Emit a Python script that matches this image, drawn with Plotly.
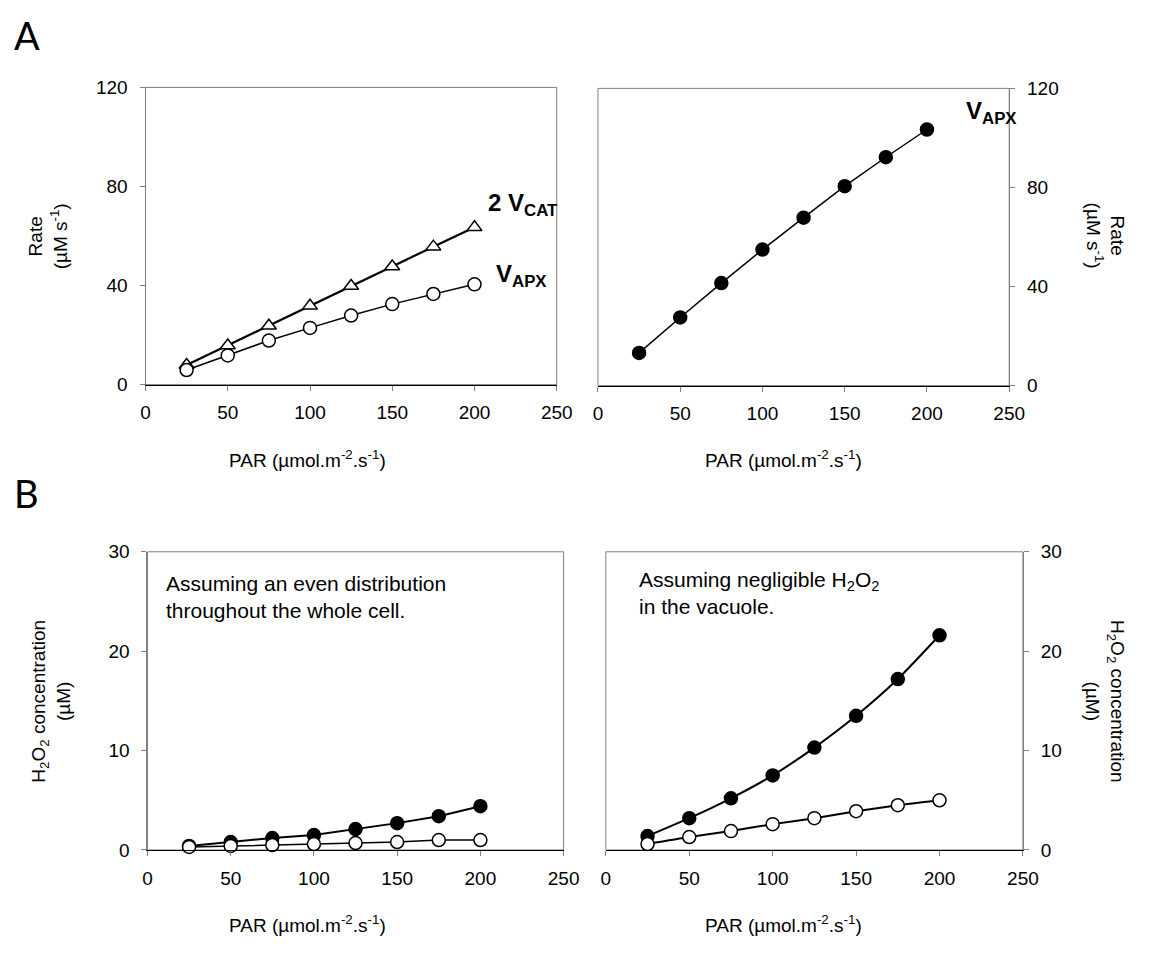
import plotly.graph_objects as go

# PAR levels (µmol m-2 s-1)
par = [25, 50, 75, 100, 125, 150, 175, 200]

# Panel A: rates (µM s-1)
a_2vcat = [7.9, 15.8, 23.8, 31.8, 39.8, 47.7, 55.7, 63.5]
a_vapx_even = [5.9, 11.8, 17.8, 22.9, 27.9, 32.5, 36.6, 40.5]
a_vapx_vac = [13.2, 27.5, 41.4, 54.9, 67.8, 80.5, 92.2, 103.4]

# Panel B: H2O2 concentration (µM)
b_even_filled = [0.4, 0.8, 1.2, 1.5, 2.1, 2.7, 3.4, 4.4]
b_even_open = [0.3, 0.4, 0.5, 0.6, 0.7, 0.8, 1.0, 1.0]
b_vac_filled = [1.4, 3.2, 5.2, 7.5, 10.3, 13.5, 17.2, 21.6]
b_vac_open = [0.6, 1.3, 1.9, 2.6, 3.2, 3.9, 4.5, 5.0]

x_ticks = [0, 50, 100, 150, 200, 250]

# the page body has an 8px margin, so the figure is shrunk and shifted by it
OFF = 8
W, H = 1150 - 2 * OFF, 955 - 2 * OFF
FONT = "Liberation Sans, Arial, sans-serif"
GREY = "#7f7f7f"


def fx(px):
    return (px - OFF) / W


def fy(py):
    return 1 - (py - OFF) / H


def px_x(a, b):
    return [fx(a), fx(b)]


def px_y(top, bottom):
    return [fy(bottom), fy(top)]


fig = go.Figure()


def series(x, y, xa, ya, filled, symbol="circle", width=1.5, shape="linear"):
    fig.add_trace(go.Scatter(
        x=x, y=y, xaxis=xa, yaxis=ya, mode="lines+markers",
        line=dict(color="black", width=width, shape=shape, smoothing=0.6),
        marker=dict(symbol=symbol, size=13,
                    color="black" if filled else "white",
                    line=dict(color="black", width=1.5)),
        showlegend=False, cliponaxis=False,
    ))


# A left
series(par, a_2vcat, "x", "y", False, symbol="triangle-up", width=2.2)
series(par, a_vapx_even, "x", "y", False)
# A right
series(par, a_vapx_vac, "x2", "y2", True)
# B left
series(par, b_even_filled, "x3", "y3", True, width=2)
series(par, b_even_open, "x3", "y3", False)
# B right
series(par, b_vac_filled, "x4", "y4", True, width=2, shape="spline")
series(par, b_vac_open, "x4", "y4", False, width=2, shape="spline")


def xaxis(domain, anchor):
    return dict(domain=domain, anchor=anchor, range=[0, 250], tickvals=x_ticks,
                ticks="outside", ticklen=5, tickcolor=GREY, showline=True,
                linecolor="black", linewidth=1, showgrid=False, zeroline=False,
                tickfont=dict(family=FONT, size=19, color="black"),
                ticklabelstandoff=6)


def yaxis(domain, anchor, rng, dtick, side):
    return dict(domain=domain, anchor=anchor, range=rng, dtick=dtick, side=side,
                ticks="outside", ticklen=5, tickcolor=GREY, showline=True,
                linecolor=GREY, linewidth=1, showgrid=False, zeroline=False,
                tickfont=dict(family=FONT, size=19, color="black"),
                ticklabelstandoff=8)


fig.update_layout(
    width=W, height=H, margin=dict(l=0, r=0, t=0, b=0),
    paper_bgcolor="white", plot_bgcolor="white",
    xaxis=xaxis(px_x(143, 562), "y"),
    yaxis=yaxis(px_y(79, 383), "x", [0, 120], 40, "left"),
    xaxis2=xaxis(px_x(604, 1023), "y2"),
    yaxis2=yaxis(px_y(80, 384), "x2", [0, 120], 40, "right"),
    xaxis3=xaxis(px_x(145, 569), "y3"),
    yaxis3=yaxis(px_y(554, 859), "x3", [0, 30], 10, "left"),
    xaxis4=xaxis(px_x(612, 1037), "y4"),
    yaxis4=yaxis(px_y(554, 859), "x4", [0, 30], 10, "right"),
)

# plot frames
for xr, yr in [("x", "y"), ("x2", "y2"), ("x3", "y3"), ("x4", "y4")]:
    fig.add_shape(type="rect", xref=f"{xr} domain", yref=f"{yr} domain",
                  x0=0, x1=1, y0=0, y1=1, line=dict(color=GREY, width=1),
                  layer="below")

ann = []


def text(x, y, s, size=19, bold=False, xref="paper", yref="paper",
         xanchor="center", yanchor="middle", angle=0, family=FONT, align="left"):
    if bold:
        s = f"<b>{s}</b>"
    ann.append(dict(x=x, y=y, xref=xref, yref=yref, text=s, showarrow=False,
                    xanchor=xanchor, yanchor=yanchor, textangle=angle, align=align,
                    font=dict(family=family, size=size, color="black")))


# panel letters
text(fx(7), fy(25), "A", size=38, family="Lato, sans-serif", xanchor="left")
text(fx(7), fy(494), "B", size=38, family="Lato, sans-serif", xanchor="left")

# axis titles
par_title = "PAR (µmol.m<sup>-2</sup>.s<sup>-1</sup>)"
text(fx(308), fy(459), par_title, size=19)
text(fx(793), fy(459), par_title, size=19)
text(fx(308), fy(935), par_title, size=19)
text(fx(793), fy(935), par_title, size=19)

text(fx(44), fy(231), "Rate<br>(µM s<sup>-1</sup>)", size=19, angle=-90, align="center")
text(fx(1121), fy(231), "Rate<br>(µM s<sup>-1</sup>)", size=19, angle=90, align="center")
h2o2 = "H<sub>2</sub>O<sub>2</sub> concentration<br>(µM)"
text(fx(47), fy(707), h2o2, size=19, angle=-90, align="center")
text(fx(1120), fy(707), h2o2, size=19, angle=90, align="center")

# series labels
text(207, 72.6, "2 V<sub>CAT</sub>", size=24, bold=True, xref="x", yref="y", xanchor="left")
text(212, 44.2, "V<sub>APX</sub>", size=24, bold=True, xref="x", yref="y", xanchor="left")
text(222.6, 110.1, "V<sub>APX</sub>", size=24, bold=True, xref="x2", yref="y2", xanchor="left")

# panel B notes
text(10.2, 28.2, "Assuming an even distribution<br>throughout the whole cell.", size=21,
     xref="x3", yref="y3", xanchor="left", yanchor="top")
text(18.8, 28.6, "Assuming negligible H<sub>2</sub>O<sub>2</sub><br>in the vacuole.", size=21,
     xref="x4", yref="y4", xanchor="left", yanchor="top")

fig.update_layout(annotations=ann)

fig.write_html("out.html")
